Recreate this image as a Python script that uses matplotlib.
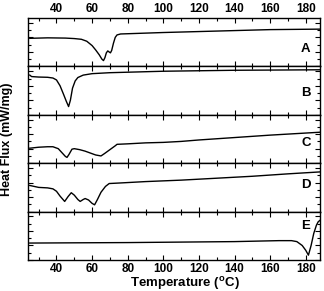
import matplotlib
matplotlib.use("Agg")
import matplotlib.pyplot as plt
from matplotlib.ticker import MultipleLocator

plt.rcParams['font.family'] = ['Liberation Sans', 'DejaVu Sans']
plt.rcParams['font.weight'] = 'bold'
plt.rcParams['mathtext.fontset'] = 'custom'
plt.rcParams['mathtext.bf'] = 'Liberation Sans:bold'
plt.rcParams['mathtext.rm'] = 'Liberation Sans:bold'

# Data (heat flux, arbitrary units normalised per panel)
T_A = [25, 35, 45, 50, 54, 57, 60, 62, 64, 65.5, 66.4, 67.2, 68, 68.8, 69.5, 70.3, 71, 72, 73, 74, 76, 80, 100, 120, 140, 160, 188]
H_A = [0.58, 0.59, 0.585, 0.575, 0.56, 0.52, 0.43, 0.34, 0.24, 0.15, 0.12, 0.18, 0.28, 0.32, 0.30, 0.28, 0.33, 0.48, 0.60, 0.65, 0.67, 0.675, 0.70, 0.72, 0.74, 0.76, 0.77]

T_B = [25, 26, 30, 35, 38, 40, 42, 44, 45.5, 46.8, 47.8, 49, 50.5, 52, 55, 60, 70, 80, 100, 140, 188]
H_B = [0.82, 0.79, 0.78, 0.775, 0.76, 0.72, 0.60, 0.42, 0.28, 0.17, 0.30, 0.55, 0.70, 0.77, 0.82, 0.85, 0.87, 0.88, 0.90, 0.92, 0.93]

T_C = [25, 30, 35, 38, 41, 43, 45, 45.9, 47, 48.7, 50, 53, 56, 59, 62, 65, 67, 70, 73, 74, 80, 90, 100, 110, 120, 140, 160, 188]
H_C = [0.31, 0.33, 0.34, 0.34, 0.30, 0.22, 0.14, 0.12, 0.18, 0.29, 0.30, 0.28, 0.25, 0.21, 0.17, 0.15, 0.20, 0.28, 0.36, 0.39, 0.40, 0.42, 0.43, 0.45, 0.48, 0.53, 0.58, 0.64]

T_D = [25, 30, 35, 38, 40, 42, 44.6, 46.5, 48.3, 50, 52, 53.3, 55, 56.1, 58, 60, 61.4, 63, 65, 67.5, 69.6, 75, 90, 110, 130, 150, 170, 188]
H_D = [0.54, 0.50, 0.49, 0.47, 0.42, 0.32, 0.21, 0.31, 0.39, 0.34, 0.25, 0.21, 0.25, 0.27, 0.24, 0.17, 0.14, 0.25, 0.40, 0.52, 0.58, 0.59, 0.62, 0.65, 0.69, 0.73, 0.78, 0.82]

T_E = [25, 50, 80, 110, 140, 165, 172, 175, 178, 180, 181.5, 183, 184.5, 186, 187, 188]
H_E = [0.35, 0.355, 0.36, 0.37, 0.38, 0.40, 0.40, 0.38, 0.30, 0.20, 0.10, 0.30, 0.55, 0.72, 0.79, 0.82]

labels = ['A', 'B', 'C', 'D', 'E']
label_y = [0.35, 0.45, 0.41, 0.54, 0.70]
xticks = [40, 60, 80, 100, 120, 140, 160, 180]

series = [(T_A, H_A), (T_B, H_B), (T_C, H_C), (T_D, H_D), (T_E, H_E)]

fig = plt.figure(figsize=(3.24, 2.91), dpi=100)
gs = fig.add_gridspec(5, 1, left=28/324, right=320/324, top=1-18/291, bottom=1-260/291, hspace=0)
axes = [fig.add_subplot(gs[i]) for i in range(5)]

for i, ax in enumerate(axes):
    T, H = series[i]
    ax.plot(T, H, color='black', lw=1.0)
    ax.set_xlim(24, 188)
    ax.set_ylim(0, 1)
    ax.set_xticks(xticks)
    ax.xaxis.set_minor_locator(MultipleLocator(10))
    ax.yaxis.set_major_locator(MultipleLocator(0.3))
    ax.yaxis.set_minor_locator(MultipleLocator(0.15))
    ax.tick_params(which='both', direction='in', top=True, bottom=True, left=True, right=True,
                   labelleft=False, labelbottom=(i == 4), labeltop=(i == 0), labelsize=8.5, width=0.8)
    ax.tick_params(axis='x', which='major', length=3.5, pad=2.5)
    ax.tick_params(axis='y', which='major', length=3.5)
    ax.tick_params(which='minor', length=2)
    for s in ax.spines.values():
        s.set_linewidth(1.0)
    ax.text(180, label_y[i], labels[i], ha='center', va='center', fontsize=9.5, fontweight='bold')
    for lab in ax.get_xticklabels():
        lab.set_fontweight('bold')

fig.text(185/324, 1-284/291, r'Temperature ($^{\mathbf{o}}$C)', ha='center', va='center', fontsize=9.5, fontweight='bold')
fig.text(0.022, 0.52, 'Heat Flux (mW/mg)', rotation=90, ha='center', va='center', fontsize=9, fontweight='bold')

fig.savefig('out.png', dpi=100)
